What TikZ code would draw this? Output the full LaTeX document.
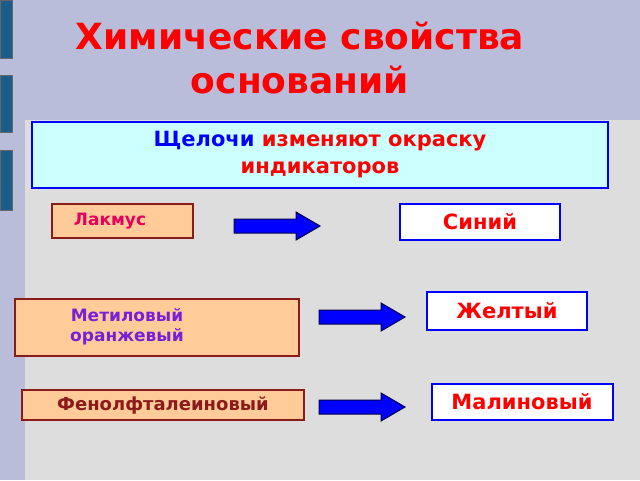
\documentclass[tikz,border=0pt]{standalone}
\usepackage{fontspec}
\setmainfont{DejaVu Sans}
\definecolor{bg}{HTML}{B9BDD9}
\definecolor{panel}{HTML}{DDDDDD}
\definecolor{bar}{HTML}{1B5C8A}
\definecolor{peach}{HTML}{FFCC99}
\definecolor{dred}{HTML}{8B1A1A}
\definecolor{lcyan}{HTML}{CCFFFF}
\definecolor{purp}{HTML}{7A1FD6}
\definecolor{mag}{HTML}{E6005C}
\tikzset{
 ind/.style={draw=dred,line width=2pt,fill=peach,font=\bfseries\fontsize{17}{20}\selectfont,inner sep=0pt,align=center},
 res/.style={draw=blue,line width=2pt,fill=white,font=\bfseries\fontsize{21}{24}\selectfont,inner sep=0pt},
 arr/.style={draw=black!70!blue,fill=blue,line width=1pt,line join=miter},
}
\newcommand{\bigarrow}[1]{\draw[arr] (#1) ++(-43,-7) -- ++(62,0) -- ++(0,-7) -- ++(24,14) -- ++(-24,14) -- ++(0,-7) -- ++(-62,0) -- cycle;}
\begin{document}
\begin{tikzpicture}[x=1pt,y=-1pt]
\useasboundingbox (0,0) rectangle (640,480);
\fill[bg] (0,0) rectangle (640,480);
\fill[panel] (25,120) rectangle (640,480);
\foreach \a/\b in {0/58,75/132,150/210}
  \fill[bar,draw=black!60] (0,\a) rectangle (12,\b);
\node[font=\bfseries\fontsize{36}{44}\selectfont,text=red,align=center] (title) at (300,58) {Химические свойства\\оснований};
\node[draw=blue,line width=2pt,fill=lcyan,minimum width=576pt,minimum height=66pt,font=\bfseries\fontsize{21}{27}\selectfont,align=center] (top) at (320,155) {\textcolor{blue}{Щелочи} \textcolor{red}{изменяют окраску}\\\textcolor{red}{индикаторов}};
\node[ind,minimum width=141pt,minimum height=34pt,text=mag] (l) at (122,221) {\hspace*{-24pt}Лакмус};
\node[ind,minimum width=284pt,minimum height=57pt,text=purp] (m) at (157,327) {\hspace*{-60pt}\parbox{160pt}{\centering Метиловый\\оранжевый}};
\node[ind,minimum width=282pt,minimum height=30pt,text=dred,font=\bfseries\fontsize{18}{20}\selectfont] (f) at (163,405) {Фенолфталеиновый};
\node[res,minimum width=160pt,minimum height=36pt,text=red] (s) at (480,222) {Синий};
\node[res,minimum width=160pt,minimum height=38pt,text=red] (y) at (507,311) {Желтый};
\node[res,minimum width=181pt,minimum height=36pt,text=red] (r) at (522,402) {Малиновый};
\coordinate (a1) at (277,226);
\coordinate (a2) at (362,317);
\coordinate (a3) at (362,407);
\bigarrow{a1}
\bigarrow{a2}
\bigarrow{a3}
\end{tikzpicture}
\end{document}
